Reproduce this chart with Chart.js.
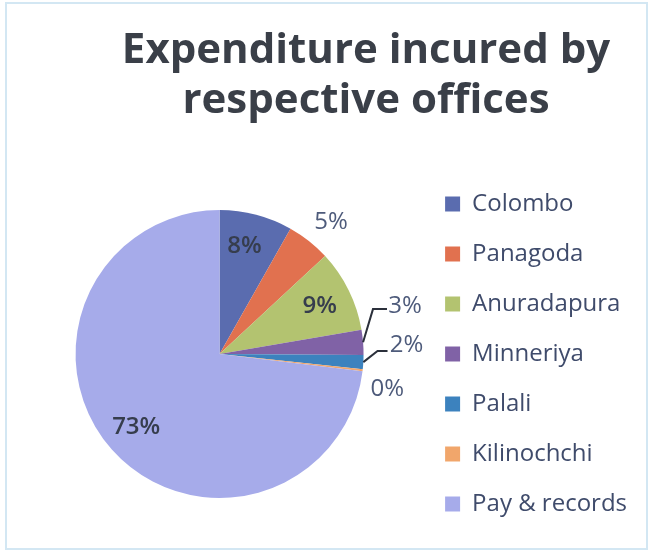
<!DOCTYPE html>
<html>
<head>
<meta charset="utf-8">
<title>Expenditure incured by respective offices</title>
<script src="https://cdn.jsdelivr.net/npm/chart.js@4.4.0/dist/chart.umd.min.js"></script>
<style>
  html, body { margin: 0; padding: 0; background: #ffffff; }
  #caja { width: 651px; height: 552px; position: relative; }
</style>
</head>
<body>
<div id="caja"><canvas id="myChart" width="651" height="552"></canvas></div>
<script>
/*************************************** DATOS **************************************************/
var oficinas = ['Colombo', 'Panagoda', 'Anuradapura', 'Minneriya', 'Palali', 'Kilinochchi', 'Pay & records'];
var gastos = [8.2, 4.9, 9.2, 2.8, 1.6, 0.2, 73.1];
var etiquetas = ['8%', '5%', '9%', '3%', '2%', '0%', '73%'];
var titulo = ['Expenditure incured by', 'respective offices'];

var colores = ['#5a6caf', '#e1714f', '#b3c370', '#8062a6', '#3c82be', '#f1a66b', '#a6abea'];
var fuente = 'Open Sans';

// donde va cada etiqueta: f = fraccion del radio, giro = grados sobre el centro del sector
var ubicacion = [
    { f: 0.77, giro: -1.8, dentro: true },
    { f: 1.20, giro: 1.8 },
    { f: 0.77, giro: 1, dentro: true },
    { f: 1.33, giro: -9.8, guia: [-32, 3, -18] },
    { f: 1.30, giro: -6, guia: [-29, 6, -19] },
    { f: 1.19, giro: 5.4 },
    { f: 0.77, giro: 0.3, dentro: true }
];

/******************* marco, fondo y titulo ********************/
var marco = {
    id: 'marco',
    beforeDraw: function(chart) {
        var ctx = chart.ctx;
        ctx.save();
        ctx.fillStyle = '#ffffff';
        ctx.fillRect(0, 0, chart.width, chart.height);
        ctx.strokeStyle = '#d3e7f3';
        ctx.lineWidth = 2;
        ctx.strokeRect(6, 3, chart.width - 10, chart.height - 6);

        // el titulo va algo corrido a la derecha, como en el original
        ctx.fillStyle = '#3a3f48';
        ctx.font = 'bold 42px "' + fuente + '"';
        ctx.textAlign = 'center';
        ctx.textBaseline = 'alphabetic';
        for (var i = 0; i < titulo.length; i++) {
            ctx.fillText(titulo[i], 366, 63 + i * 50);
        }
        ctx.restore();
    }
};

/******************* etiquetas de porcentaje ********************/
var porcentajes = {
    id: 'porcentajes',
    afterDatasetsDraw: function(chart) {
        var ctx = chart.ctx;
        var arcos = chart.getDatasetMeta(0).data;
        ctx.save();
        ctx.textAlign = 'center';
        ctx.textBaseline = 'middle';
        for (var i = 0; i < arcos.length; i++) {
            var a = arcos[i];
            var u = ubicacion[i];
            var medio = (a.startAngle + a.endAngle) / 2;
            var ang = medio + u.giro * Math.PI / 180;
            var r = a.outerRadius * u.f;
            var x = a.x + Math.cos(ang) * r;
            var y = a.y + Math.sin(ang) * r;

            if (u.guia) {
                // linea guia desde el borde del sector
                var bx = a.x + Math.cos(medio) * a.outerRadius;
                var by = a.y + Math.sin(medio) * a.outerRadius;
                ctx.strokeStyle = '#2b303b';
                ctx.lineWidth = 2;
                ctx.beginPath();
                ctx.moveTo(bx, by);
                ctx.lineTo(x + u.guia[0], y + u.guia[1]);
                ctx.lineTo(x + u.guia[2], y + u.guia[1]);
                ctx.stroke();
            }

            ctx.font = (u.dentro ? '600 ' : '') + '24px "' + fuente + '"';
            ctx.fillStyle = u.dentro ? '#363d4d' : '#4e5b7b';
            ctx.fillText(etiquetas[i], x, y);
        }
        ctx.restore();
    }
};

var ctx = document.getElementById('myChart').getContext('2d');
var myChart = new Chart(ctx, {
    type: 'pie',
    data: {
        labels: oficinas,
        datasets: [{
            data: gastos,
            backgroundColor: colores,
            borderWidth: 0
        }]
    },
    options: {
        responsive: false,
        animation: false,
        radius: 144,
        layout: {
            padding: { left: 20, right: 14, top: 156, bottom: 0 }
        },
        plugins: {
            title: { display: false },
            legend: {
                position: 'right',
                fullSize: false,
                labels: {
                    boxWidth: 15,
                    boxHeight: 15,
                    padding: 26,
                    color: '#3f4b6b',
                    font: { family: fuente, size: 24 }
                }
            },
            tooltip: { enabled: false }
        }
    },
    plugins: [marco, porcentajes]
});
</script>
</body>
</html>
